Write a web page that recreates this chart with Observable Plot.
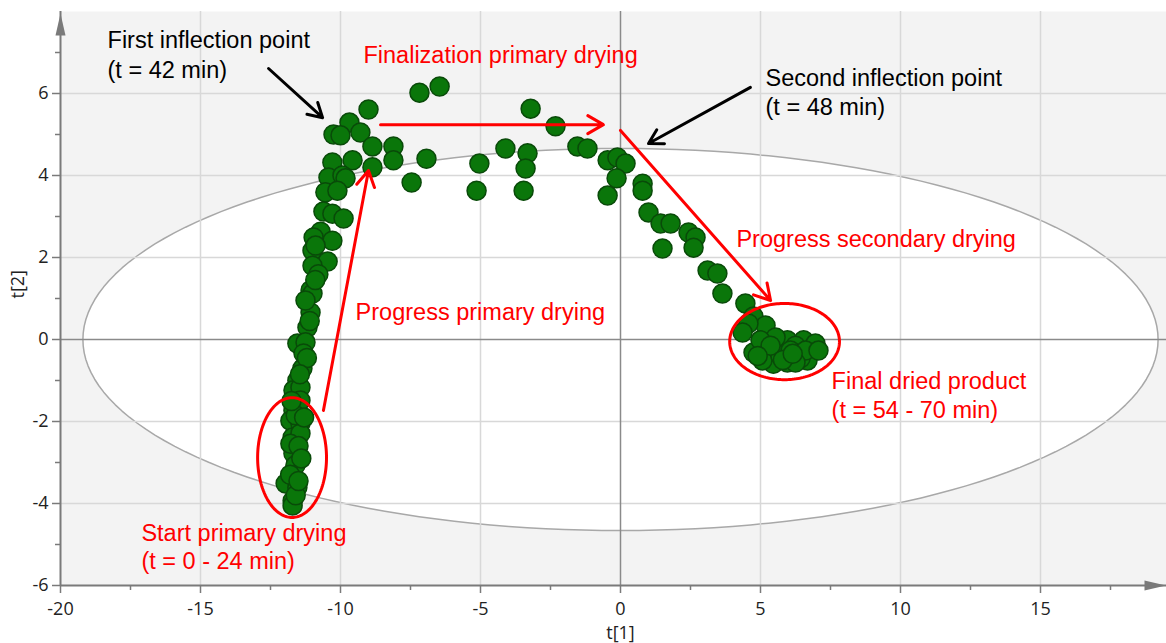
<!DOCTYPE html>
<html>
<head>
<meta charset="utf-8">
<script src="https://cdn.jsdelivr.net/npm/d3@7"></script>
<script src="https://cdn.jsdelivr.net/npm/@observablehq/plot@0.6"></script>
<style>
  html, body { margin: 0; padding: 0; background: #ffffff; }
  #chart svg { display: block; }
</style>
</head>
<body>
<div id="chart"></div>
<script>
// ---- data: PCA scores t[1], t[2] ----
const t1 = [
  -6.46, -7.18, -9.00, -3.21, -2.32, -9.68, -9.29, -10.25, -10.00, -8.86,
  -8.11, -1.54, -1.18, -4.11, -3.32, -8.11, -9.57, -6.93, -5.04, -8.86,
  -3.39, -10.29, -7.46, -5.14, -3.46, -0.46, -0.11, 0.18, -0.14, -0.46,
  0.79, 0.79, 1.00, 1.43, 1.79, 2.43, 2.68, 2.61, 1.50, 3.11,
  3.46, 3.64, 4.46, 4.75, 5.18, 4.57, 4.36,
  4.75, 5.25, 5.61, 5.96, 6.32, 6.54, 6.89, 6.68, 5.96, 5.46,
  5.07, 6.96, 5.54, 6.25, 5.71, 6.43, 6.07, 5.00, 5.36, 6.61,
  7.07, 6.25, 4.90, 5.80, 6.15,
  -10.43, -9.93, -9.82, -10.54, -10.11, -10.61, -10.29, -9.89, -10.71, -10.96,
  -10.29, -11.00, -10.46, -11.00, -10.79, -11.07, -11.00, -11.07, -11.18, -11.54,
  -11.25, -11.32, -11.36, -11.54, -11.68, -11.43, -11.68, -11.79, -11.43, -11.71,
  -11.43, -11.68, -11.71, -11.96, -11.54, -11.71, -11.79, -11.61, -11.43, -11.25,
  -10.89, -11.71, -11.60, -11.50, -11.80, -11.60, -11.40, -11.75, -11.30, -11.50,
  -11.20, -11.45, -11.10, -10.90
];
const t2 = [
  6.17, 6.02, 5.61, 5.63, 5.20, 5.29, 5.05, 5.00, 4.98, 4.71,
  4.71, 4.71, 4.66, 4.66, 4.54, 4.37, 4.37, 4.41, 4.29, 4.20,
  4.17, 4.32, 3.83, 3.63, 3.63, 4.37, 4.44, 4.29, 3.93, 3.51,
  3.80, 3.63, 3.10, 2.83, 2.83, 2.61, 2.49, 2.24, 2.22, 1.68,
  1.61, 1.12, 0.88, 0.56, 0.34, 0.39, 0.17,
  -0.32, -0.44, -0.20, -0.02, -0.32, -0.02, -0.22, -0.51, -0.56, -0.59,
  -0.51, -0.10, 0.05, -0.15, -0.39, -0.46, -0.27, -0.02, -0.15, -0.27,
  -0.27, -0.56, -0.40, -0.50, -0.35,
  3.95, 4.00, 3.93, 3.59, 3.63, 3.12, 3.07, 2.95, 2.63, 2.49,
  2.41, 2.17, 1.90, 1.80, 1.59, 1.20, 1.12, 0.66, 0.29, -0.10,
  -0.07, -0.34, -0.71, -1.00, -1.24, -1.17, -1.73, -1.98, -2.05, -2.39,
  -2.29, -2.78, -3.27, -3.51, -3.61, -3.93, -2.54, -3.07, -1.49, 0.95,
  2.29, -4.05, -1.85, -2.60, -3.30, -3.80, -2.90, -1.50, -1.90, -3.45,
  -0.45, -0.85, 0.45, 1.45
];

// axis settings (data units)
const xDomain = [-20, 19.5];
const yDomain = [-6, 8];
const xMajorTicks = [-20, -15, -10, -5, 0, 5, 10, 15];
const xMinorTicks = [-17.5, -12.5, -7.5, -2.5, 2.5, 7.5, 12.5, 17.5];
const yMajorTicks = [-6, -4, -2, 0, 2, 4, 6];
const yMinorTicks = [-5, -3, -1, 1, 3, 5, 7];
const xGrid = [-15, -10, -5, 5, 10, 15];
const yGrid = [-4, -2, 2, 4, 6];

// Hotelling T2 ellipse (semi-axes in data units)
const t2EllipseRadii = [19.2, 4.66];

// annotation circles: centre x, centre y, radius x, radius y (data units)
const ringCx = [-11.73, 5.86];
const ringCy = [-2.88, -0.05];
const ringRx = [1.23, 1.96];
const ringRy = [1.46, 0.93];

// annotation arrows (data units)
const arrowX1 = [-12.57, 4.64, -8.57, 0.00, -10.61];
const arrowY1 = [6.61, 6.15, 5.24, 5.10, -1.73];
const arrowX2 = [-10.64, 1.00, -0.61, 5.36, -9.00];
const arrowY2 = [5.41, 4.78, 5.24, 0.95, 4.12];
const arrowColor = ["black", "black", "red", "red", "red"];

// annotation labels (left edge, vertical middle in data units)
const labelText = [
  "First inflection point", "(t = 42 min)",
  "Finalization primary drying",
  "Second inflection point", "(t = 48 min)",
  "Progress secondary drying",
  "Progress primary drying",
  "Final dried product", "(t = 54 - 70 min)",
  "Start primary drying", "(t = 0 - 24 min)"
];
const labelX = [-18.32, -18.32, -9.18, 5.18, 5.18, 4.14, -9.46, 7.54, 7.54, -17.11, -17.11];
const labelY = [7.29, 6.56, 6.93, 6.37, 5.66, 2.44, 0.66, -1.02, -1.73, -4.73, -5.41];
const labelColor = ["black", "black", "red", "black", "black", "red", "red", "red", "red", "red", "red"];

// ---- build tables ----
const points = t1.map((x, i) => ({x, y: t2[i]}));

function ellipsePath(cx, cy, rx, ry, id) {
  const n = 180;
  return d3.range(n + 1).map(k => {
    const a = (2 * Math.PI * k) / n;
    return {x: cx + rx * Math.cos(a), y: cy + ry * Math.sin(a), id};
  });
}
const t2Ellipse = ellipsePath(0, 0, t2EllipseRadii[0], t2EllipseRadii[1], 0);
const rings = ringCx.flatMap((cx, i) => ellipsePath(cx, ringCy[i], ringRx[i], ringRy[i], i));

const arrows = arrowX1.map((x1, i) => ({x1, y1: arrowY1[i], x2: arrowX2[i], y2: arrowY2[i], color: arrowColor[i]}));
const labels = labelText.map((text, i) => ({text, x: labelX[i], y: labelY[i], color: labelColor[i]}));

// elongated triangle used for axis arrow heads
const axisHead = {
  draw(ctx) {
    ctx.moveTo(0, -11);
    ctx.lineTo(5, 11);
    ctx.lineTo(-5, 11);
    ctx.closePath();
  }
};

const axisGray = "#7a7a7a";
const tickFmt = d => String(d);
const annotFont = "Liberation Sans, Arial, sans-serif";
const axisFont = "Open Sans, sans-serif";

const chart = Plot.plot({
  width: 1166,
  height: 643,
  marginLeft: 60,
  marginRight: 0,
  marginTop: 11,
  marginBottom: 58,
  x: {domain: xDomain},
  y: {domain: yDomain},
  style: {fontFamily: axisFont, fontSize: "17px", color: "#222", background: "#ffffff"},
  marks: [
    Plot.frame({fill: "#f3f3f3", stroke: null}),
    Plot.line(t2Ellipse, {x: "x", y: "y", fill: "#ffffff", stroke: "#a8a8a8", strokeWidth: 1.5, curve: "linear-closed"}),
    Plot.ruleX(xGrid, {stroke: "#d8d8d8", strokeWidth: 1.5}),
    Plot.ruleY(yGrid, {stroke: "#d8d8d8", strokeWidth: 1.5}),
    Plot.ruleX([0], {stroke: "#8a8a8a", strokeWidth: 1.5}),
    Plot.ruleY([0], {stroke: "#8a8a8a", strokeWidth: 1.5}),
    Plot.dot(points, {x: "x", y: "y", r: 9.5, fill: "#0a760a", stroke: "#094a09", strokeWidth: 1.5, fillOpacity: 1}),
    Plot.line(rings, {x: "x", y: "y", z: "id", stroke: "#ff0000", strokeWidth: 3, curve: "linear-closed"}),
    Plot.arrow(arrows, {filter: d => d.color === "red", x1: "x1", y1: "y1", x2: "x2", y2: "y2", stroke: "#ff0000", strokeWidth: 3, headLength: 9}),
    Plot.arrow(arrows, {filter: d => d.color === "black", x1: "x1", y1: "y1", x2: "x2", y2: "y2", stroke: "#000000", strokeWidth: 3, headLength: 8}),
    Plot.text(labels, {filter: d => d.color === "red", x: "x", y: "y", text: "text", fill: "#ff0000", textAnchor: "start", lineAnchor: "middle", fontFamily: annotFont, fontSize: 23.5}),
    Plot.text(labels, {filter: d => d.color === "black", x: "x", y: "y", text: "text", fill: "#000000", textAnchor: "start", lineAnchor: "middle", fontFamily: annotFont, fontSize: 23.5}),
    // axes
    Plot.ruleX([xDomain[0]], {stroke: axisGray, strokeWidth: 2}),
    Plot.ruleY([yDomain[0]], {stroke: axisGray, strokeWidth: 2}),
    Plot.axisY(yMajorTicks, {tickSize: 8, tickPadding: 4, tickFormat: tickFmt, stroke: axisGray, strokeWidth: 1.5, label: null, fill: "#222", fontSize: 18, fontFamily: axisFont}),
    Plot.axisY(yMinorTicks, {tickSize: 5, text: null, stroke: axisGray, strokeWidth: 1.5, label: null}),
    Plot.axisX(xMajorTicks, {tickSize: 8, tickPadding: 9, tickFormat: tickFmt, stroke: axisGray, strokeWidth: 1.5, label: null, fill: "#222", fontSize: 18, fontFamily: axisFont}),
    Plot.axisX(xMinorTicks, {tickSize: 5, text: null, stroke: axisGray, strokeWidth: 1.5, label: null}),
    Plot.dot([0], {x: xDomain[0], y: yDomain[1], dy: 13, symbol: axisHead, r: 4, fill: axisGray, stroke: null}),
    Plot.dot([0], {x: xDomain[1], y: yDomain[0], dx: -11, symbol: axisHead, r: 4, rotate: 90, fill: axisGray, stroke: null}),
    Plot.text(["t[1]"], {x: 0, y: yDomain[0], dy: 48, text: d => d, fill: "#222", fontSize: 18, fontFamily: axisFont}),
    Plot.text(["t[2]"], {frameAnchor: "left", dx: -42, rotate: -90, text: d => d, fill: "#222", fontSize: 18, fontFamily: axisFont})
  ]
});
document.getElementById("chart").appendChild(chart);
</script>
</body>
</html>
